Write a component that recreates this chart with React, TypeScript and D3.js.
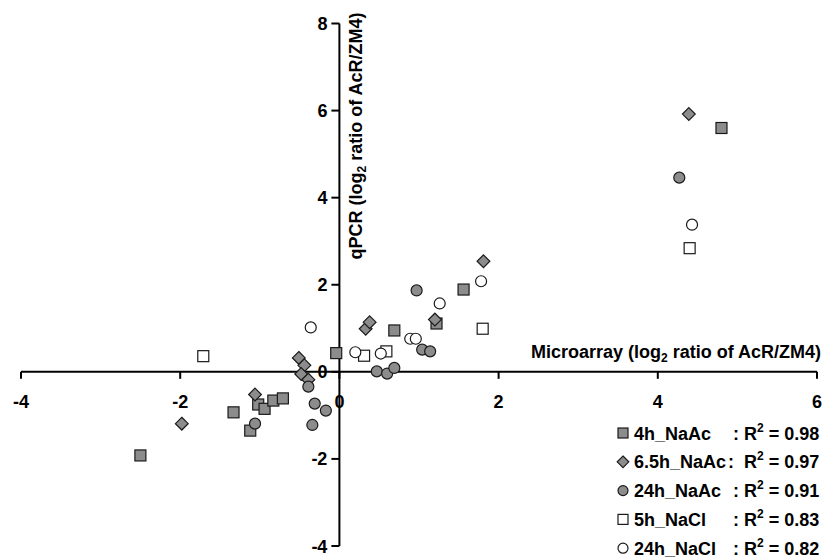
import React, { useEffect, useRef } from "react";
import * as d3 from "d3";

// microarray (x) vs qPCR (y), log2 ratio AcR/ZM4
const naac4hX = [-2.5, -1.33, -1.12, -1.02, -0.94, -0.83, -0.71, -0.04, 0.69, 1.22, 1.56, 4.8];
const naac4hY = [-1.92, -0.93, -1.35, -0.75, -0.85, -0.66, -0.61, 0.43, 0.95, 1.11, 1.89, 5.6];

const naac65hX = [-1.98, -1.06, -0.51, -0.44, -0.48, -0.39, 0.33, 0.38, 1.2, 1.81, 4.39];
const naac65hY = [-1.19, -0.52, 0.32, 0.15, -0.05, -0.18, 0.99, 1.14, 1.2, 2.54, 5.92];

const naac24hX = [-1.06, -0.39, -0.31, -0.17, -0.34, 0.47, 0.6, 0.69, 0.97, 1.04, 1.14, 4.27];
const naac24hY = [-1.19, -0.34, -0.73, -0.89, -1.22, 0.01, -0.04, 0.09, 1.87, 0.51, 0.47, 4.46];

const nacl5hX = [-1.71, 0.31, 0.59, 1.8, 4.4];
const nacl5hY = [0.36, 0.37, 0.47, 0.99, 2.84];

const nacl24hX = [-0.36, 0.2, 0.52, 0.89, 0.96, 1.26, 1.78, 4.43];
const nacl24hY = [1.02, 0.45, 0.42, 0.76, 0.76, 1.57, 2.08, 3.38];

const xTicks = [-4, -2, 0, 2, 4, 6];
const yTicks = [-4, -2, 0, 2, 4, 6, 8];

const seriesNames = ["4h_NaAc", "6.5h_NaAc", "24h_NaAc", "5h_NaCl", "24h_NaCl"];
const rSquared = ["0.98", "0.97", "0.91", "0.83", "0.82"];
const shapes = ["square", "diamond", "circle", "square", "circle"];
const fills = ["#8c8c8c", "#8c8c8c", "#8c8c8c", "#ffffff", "#ffffff"];

const App = () => {
  const ref = useRef(null);

  useEffect(() => {
    const svg = d3.select(ref.current);
    svg.selectAll("*").remove();

    const x = d3.scaleLinear().domain([-4, 6]).range([21, 817]);
    const y = d3.scaleLinear().domain([-4, 8]).range([546, 23.5]);
    const font = "Liberation Sans, Arial, sans-serif";

    const drawMarker = (g, shape, cx, cy, fill, s) => {
      if (shape === "square") {
        g.append("rect")
          .attr("x", cx - s / 2)
          .attr("y", cy - s / 2)
          .attr("width", s)
          .attr("height", s)
          .attr("fill", fill)
          .attr("stroke", "#1a1a1a")
          .attr("stroke-width", 1.2);
      } else if (shape === "diamond") {
        const h = s * 0.58;
        g.append("path")
          .attr("d", `M${cx},${cy - h}L${cx + h},${cy}L${cx},${cy + h}L${cx - h},${cy}Z`)
          .attr("fill", fill)
          .attr("stroke", "#1a1a1a")
          .attr("stroke-width", 1.2);
      } else {
        g.append("circle")
          .attr("cx", cx)
          .attr("cy", cy)
          .attr("r", s / 2)
          .attr("fill", fill)
          .attr("stroke", "#1a1a1a")
          .attr("stroke-width", 1.2);
      }
    };

    // axes
    const ax = svg.append("g").attr("stroke", "#000").attr("stroke-width", 2);
    ax.append("line").attr("x1", x(-4)).attr("x2", x(6)).attr("y1", y(0)).attr("y2", y(0));
    ax.append("line").attr("x1", x(0)).attr("x2", x(0)).attr("y1", y(-4)).attr("y2", y(8));
    xTicks.forEach((t) => {
      ax.append("line").attr("x1", x(t)).attr("x2", x(t)).attr("y1", y(0)).attr("y2", y(0) + 7);
    });
    yTicks.forEach((t) => {
      ax.append("line").attr("x1", x(0) - 8).attr("x2", x(0)).attr("y1", y(t)).attr("y2", y(t));
    });

    const labels = svg
      .append("g")
      .attr("font-family", font)
      .attr("font-weight", "bold")
      .attr("font-size", 18);
    xTicks.forEach((t) => {
      labels
        .append("text")
        .attr("x", x(t))
        .attr("y", y(0) + 36)
        .attr("text-anchor", "middle")
        .text(t);
    });
    yTicks.forEach((t) => {
      labels
        .append("text")
        .attr("x", x(0) - 12)
        .attr("y", y(t) + 6.5)
        .attr("text-anchor", "end")
        .text(t);
    });

    // axis titles
    const xt = labels.append("text").attr("x", 821).attr("y", 358).attr("text-anchor", "end");
    xt.append("tspan").text("Microarray (log");
    xt.append("tspan").attr("font-size", 12).attr("dy", 4).text("2");
    xt.append("tspan").attr("dy", -4).text(" ratio of AcR/ZM4)");

    const yt = labels
      .append("text")
      .attr("transform", `translate(362,136) rotate(-90)`)
      .attr("text-anchor", "middle");
    yt.append("tspan").text("qPCR (log");
    yt.append("tspan").attr("font-size", 12).attr("dy", 4).text("2");
    yt.append("tspan").attr("dy", -4).text(" ratio of AcR/ZM4)");

    // points
    const seriesX = [naac4hX, naac65hX, naac24hX, nacl5hX, nacl24hX];
    const seriesY = [naac4hY, naac65hY, naac24hY, nacl5hY, nacl24hY];
    const sizes = { square: 11, diamond: 11, circle: 11 };
    const pts = svg.append("g");
    seriesX.forEach((xs, i) => {
      xs.forEach((v, j) => {
        drawMarker(pts, shapes[i], x(v), y(seriesY[i][j]), fills[i], sizes[shapes[i]]);
      });
    });

    // legend
    const leg = svg.append("g");
    seriesNames.forEach((name, i) => {
      const cy = 433 + i * 28.8;
      drawMarker(leg, shapes[i], 623, cy, fills[i], 10);
      const t = leg
        .append("text")
        .attr("font-family", font)
        .attr("font-weight", "bold")
        .attr("font-size", 18)
        .attr("y", cy + 6.5);
      t.append("tspan").attr("x", 634).text(name);
      leg
        .append("text")
        .attr("font-family", font)
        .attr("font-weight", "bold")
        .attr("font-size", 18)
        .attr("x", i === 1 ? 728 : 733)
        .attr("y", cy + 6.5)
        .text(":");
      const r = leg
        .append("text")
        .attr("font-family", font)
        .attr("font-weight", "bold")
        .attr("font-size", 18)
        .attr("x", 744)
        .attr("y", cy + 6.5);
      r.append("tspan").text("R");
      r.append("tspan").attr("font-size", 12).attr("dy", -8).text("2");
      r.append("tspan").attr("dy", 8).text(" = " + rSquared[i]);
    });
  }, []);

  return (
    <svg
      ref={ref}
      width={825}
      height={557}
      style={{ position: "absolute", left: 0, top: 0, background: "#fff" }}
    ></svg>
  );
};

export default App;
